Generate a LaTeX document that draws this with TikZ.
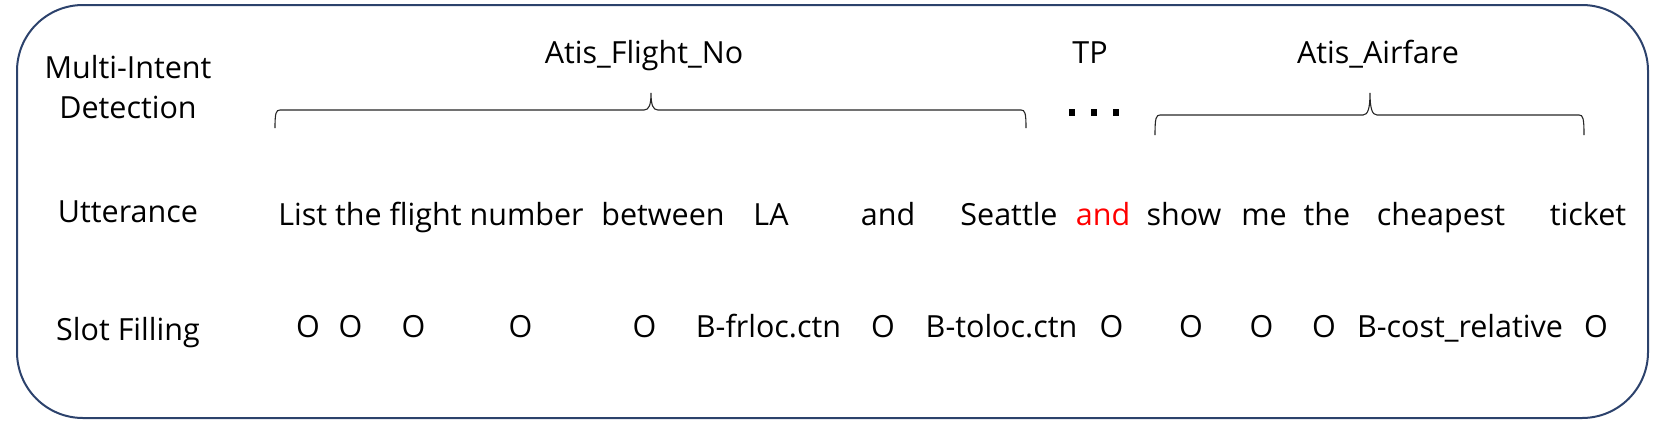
\documentclass[tikz,border=0pt]{standalone}
\usepackage{fontspec}
\setmainfont{Open Sans}
\definecolor{boxblue}{RGB}{44,66,108}
\definecolor{redword}{RGB}{255,0,0}
\begin{document}
\begin{tikzpicture}[x=1pt,y=-1pt,
  txt/.style={anchor=base,inner sep=0pt,font=\fontsize{30.5}{36}\selectfont},
  brc/.style={draw=black!85,line width=1.1pt},
  dotsq/.style={fill=black,draw=none}]
\useasboundingbox (0,0) rectangle (1662,429);
% outer frame
\draw[boxblue,line width=2pt,rounded corners=66pt] (17,5) rectangle (1648,418);
% row labels
\node[txt] (lmi) at (128,78) {Multi-Intent};
\node[txt] (ldet) at (128,118) {Detection};
\node[txt] (lutt) at (128,222) {Utterance};
\node[txt] (lslot) at (128,340) {Slot Filling};
% intents
\node[txt] (i1) at (644,63) {Atis\_Flight\_No};
\node[txt] (i2) at (1090,63) {TP};
\node[txt] (i3) at (1378,63) {Atis\_Airfare};
% braces
\coordinate (b1l) at (275,128);
\coordinate (b1t) at (651,93);
\coordinate (b1r) at (1026,128);
\draw[brc] (b1l) .. controls (275,113) and (276,110) .. (280,110) -- (644,110)
  .. controls (649,110) and (651,105) .. (b1t)
  .. controls (651,105) and (653,110) .. (658,110) -- (1021,110)
  .. controls (1025,110) and (1026,113) .. (b1r);
\coordinate (b2l) at (1155,135);
\coordinate (b2t) at (1370,93);
\coordinate (b2r) at (1584,135);
\draw[brc] (b2l) .. controls (1155,118) and (1156,115) .. (1160,115) -- (1363,115)
  .. controls (1368,115) and (1370,108) .. (b2t)
  .. controls (1370,108) and (1372,115) .. (1377,115) -- (1579,115)
  .. controls (1583,115) and (1584,118) .. (b2r);
% dots
\fill[dotsq] (1068.8,109) rectangle (1075.2,116);
\fill[dotsq] (1090.8,109) rectangle (1097.2,116);
\fill[dotsq] (1112.8,109) rectangle (1119.2,116);
% utterance
\node[txt] (w1) at (431,225) {List the flight number};
\node[txt] (w2) at (663,225) {between};
\node[txt] (w3) at (771,225) {LA};
\node[txt] (w4) at (888,225) {and};
\node[txt] (w5) at (1009,225) {Seattle};
\node[txt,text=redword] (w6) at (1103,225) {and};
\node[txt] (w7) at (1184,225) {show};
\node[txt] (w8) at (1264,225) {me};
\node[txt] (w9) at (1327,225) {the};
\node[txt] (w10) at (1441,225) {cheapest};
\node[txt] (w11) at (1588,225) {ticket};
% slots
\node[txt] (s1) at (308,337) {O};
\node[txt] (s2) at (350.5,337) {O};
\node[txt] (s3) at (413.5,337) {O};
\node[txt] (s4) at (520.5,337) {O};
\node[txt] (s5) at (644.5,337) {O};
\node[txt] (s6) at (768.5,337) {B-frloc.ctn};
\node[txt] (s7) at (883,337) {O};
\node[txt] (s8) at (1001.5,337) {B-toloc.ctn};
\node[txt] (s9) at (1111.5,337) {O};
\node[txt] (s10) at (1191,337) {O};
\node[txt] (s11) at (1261.5,337) {O};
\node[txt] (s12) at (1324,337) {O};
\node[txt] (s13) at (1460,337) {B-cost\_relative};
\node[txt] (s14) at (1596,337) {O};
\end{tikzpicture}
\end{document}
